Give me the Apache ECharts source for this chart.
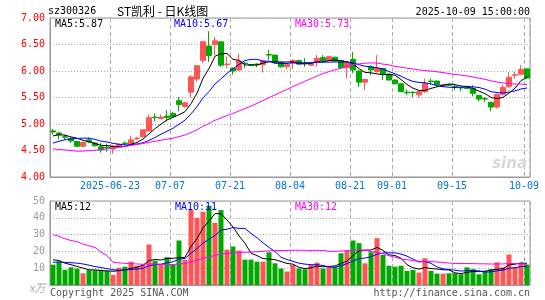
<!DOCTYPE html>
<html>
<head>
<meta charset="utf-8">
<script src="https://cdn.jsdelivr.net/npm/echarts@6/dist/echarts.min.js"></script>
<style>
html, body { margin: 0; padding: 0; background: #fff; }
#chartContainer { width: 545px; height: 300px; }
</style>
</head>
<body>
<div id="chartContainer"></div>
<script>
// sz300326 daily K-line, 2025-06-09 .. 2025-10-09
var dates = [
  '2025-06-09','2025-06-10','2025-06-11','2025-06-12','2025-06-13',
  '2025-06-16','2025-06-17','2025-06-18','2025-06-19','2025-06-20',
  '2025-06-23','2025-06-24','2025-06-25','2025-06-26','2025-06-27',
  '2025-06-30','2025-07-01','2025-07-02','2025-07-03','2025-07-04',
  '2025-07-07','2025-07-08','2025-07-09','2025-07-10','2025-07-11',
  '2025-07-14','2025-07-15','2025-07-16','2025-07-17','2025-07-18',
  '2025-07-21','2025-07-22','2025-07-23','2025-07-24','2025-07-25',
  '2025-07-28','2025-07-29','2025-07-30','2025-07-31','2025-08-01',
  '2025-08-04','2025-08-05','2025-08-06','2025-08-07','2025-08-08',
  '2025-08-11','2025-08-12','2025-08-18','2025-08-19','2025-08-20',
  '2025-08-21','2025-08-22','2025-08-25','2025-08-26','2025-08-27',
  '2025-08-28','2025-08-29','2025-09-01','2025-09-02','2025-09-03',
  '2025-09-04','2025-09-05','2025-09-08','2025-09-09','2025-09-10',
  '2025-09-11','2025-09-12','2025-09-15','2025-09-16','2025-09-17',
  '2025-09-18','2025-09-19','2025-09-22','2025-09-23','2025-09-24',
  '2025-09-25','2025-09-26','2025-09-29','2025-09-30','2025-10-09'
];
var tickDates = ['2025-06-23','2025-07-07','2025-07-21','2025-08-04','2025-08-21','2025-09-01','2025-09-15','2025-10-09'];

var openP = [
  4.87,4.83,4.76,4.73,4.67,4.58,4.70,4.64,4.57,4.56,
  4.53,4.58,4.64,4.62,4.72,4.76,4.87,5.13,5.10,5.15,
  5.20,5.44,5.33,5.60,5.85,6.20,6.47,6.50,6.55,6.12,
  6.05,6.02,6.15,6.12,6.13,6.12,6.31,6.30,6.16,6.08,
  6.14,6.20,6.15,6.11,6.17,6.25,6.20,6.26,6.20,6.06,
  6.22,6.00,5.79,6.08,5.99,6.05,5.94,5.83,5.76,5.60,
  5.60,5.55,5.61,5.81,5.81,5.71,5.74,5.71,5.69,5.71,
  5.67,5.54,5.48,5.41,5.32,5.56,5.71,5.92,5.94,6.04
];
var closeP = [
  4.85,4.80,4.75,4.68,4.58,4.65,4.66,4.59,4.51,4.55,
  4.58,4.62,4.63,4.70,4.73,4.89,5.12,5.12,5.13,5.12,
  5.14,5.37,5.40,5.89,6.10,6.55,6.29,6.57,6.11,6.13,
  6.00,6.19,6.14,6.11,6.12,6.19,6.30,6.16,6.08,6.12,
  6.20,6.13,6.14,6.14,6.24,6.19,6.27,6.19,6.06,6.16,
  6.02,5.79,5.84,6.02,6.06,5.94,5.83,5.76,5.61,5.59,
  5.59,5.61,5.77,5.80,5.74,5.74,5.73,5.70,5.68,5.67,
  5.58,5.47,5.47,5.32,5.56,5.69,5.88,5.93,6.03,5.87
];
var lowP = [
  4.80,4.71,4.70,4.64,4.57,4.56,4.64,4.57,4.46,4.48,
  4.44,4.56,4.60,4.60,4.70,4.74,4.85,5.05,5.09,5.05,
  5.12,5.24,5.31,5.50,5.80,6.15,6.17,6.30,6.08,6.05,
  5.93,6.00,6.05,6.09,6.07,5.97,6.21,6.14,6.06,6.03,
  6.04,6.11,6.08,6.10,6.08,6.17,6.19,6.18,6.05,5.86,
  5.96,5.70,5.64,5.92,5.97,5.83,5.82,5.74,5.60,5.54,
  5.50,5.50,5.58,5.74,5.73,5.70,5.72,5.64,5.62,5.66,
  5.52,5.43,5.42,5.24,5.29,5.54,5.68,5.85,5.93,5.86
];
var highP = [
  4.91,4.85,4.79,4.75,4.68,4.66,4.75,4.66,4.64,4.63,
  4.60,4.63,4.67,4.78,4.76,4.90,5.18,5.20,5.18,5.26,
  5.23,5.51,5.42,5.92,6.10,6.57,6.75,6.64,6.56,6.27,
  6.07,6.33,6.17,6.13,6.15,6.20,6.40,6.31,6.17,6.13,
  6.22,6.21,6.24,6.15,6.30,6.30,6.28,6.27,6.21,6.17,
  6.36,6.01,5.85,6.11,6.30,6.06,5.95,5.84,5.77,5.65,
  5.61,5.62,5.86,5.86,5.82,5.75,5.76,5.76,5.70,5.72,
  5.73,5.55,5.51,5.42,5.57,5.74,5.98,5.98,6.11,6.05
];
// volume, 10k shares
var volume = [
  12.1,13.9,9.0,10.5,9.8,7.0,8.8,8.8,9.0,8.4,
  6.0,10.3,10.9,13.9,11.5,12.1,24.1,14.5,12.1,16.5,
  12.1,26.5,15.1,44.6,40.0,43.6,47.2,37.0,44.6,21.1,
  22.9,20.5,15.1,15.1,13.9,13.9,19.5,12.9,9.8,8.0,
  11.9,9.8,9.4,11.9,13.3,9.8,10.9,10.9,18.9,20.5,
  26.5,24.9,12.9,19.5,27.9,17.9,11.5,10.9,11.5,8.4,
  9.0,7.4,15.9,8.4,6.8,6.8,7.0,7.0,6.4,10.5,
  9.4,6.4,8.4,9.4,13.5,10.5,18.1,10.5,13.1,12.1
];
// the 29 sessions before the window, only needed to start the moving averages
var prevClose = [
  5.10,5.05,5.00,4.95,4.60,4.45,4.30,4.20,4.15,4.10,
  4.15,4.20,4.10,4.15,4.35,4.45,4.50,4.55,4.60,4.55,
  4.45,4.48,4.50,4.52,4.57,4.70,4.78,4.85,4.70
];
var prevVolume = [
  45,52,42,30,50,40,40,90,70,125,
  22,20,18,19,17,18,16,17,17,17,
  12,11,13,12,12,16,17,15,14.9
];
var priceLegend = ['MA5:5.87', 'MA10:5.67', 'MA30:5.73'];
var volLegend = ['MA5:12', 'MA10:11', 'MA30:12'];

var UP = '#FF5555', DOWN = '#00A800';
var MONO = 'DejaVu Sans Mono';

function movingAvg(prev, vals, n) {
  var all = prev.concat(vals);
  return vals.map(function (v, i) {
    var j = i + prev.length, s = 0;
    for (var k = j - n + 1; k <= j; k++) s += all[k];
    return +(s / n).toFixed(3);
  });
}

var kData = dates.map(function (d, i) {
  return [openP[i], closeP[i], lowP[i], highP[i]];
});
var volData = volume.map(function (v, i) {
  return { value: v, itemStyle: { color: closeP[i] >= openP[i] ? UP : DOWN } };
});

function isTick(i) {
  return tickDates.indexOf(dates[i]) >= 0;
}

var dashed = { show: true, interval: isTick, lineStyle: { color: '#aaa', type: [4, 3], width: 1 } };
var dotted = { show: true, lineStyle: { color: '#aaa', type: [1, 2], width: 1 } };

function maLine(name, data, color, axis) {
  return {
    name: name, type: 'line', data: data,
    xAxisIndex: axis, yAxisIndex: axis,
    showSymbol: false, symbol: 'none', smooth: false, silent: true,
    lineStyle: { color: color, width: 1 }, z: 5
  };
}

function txt(x, y, text, color, extra) {
  var style = { x: x, y: y, text: text, fill: color, font: '10px "' + MONO + '"', textVerticalAlign: 'middle' };
  for (var k in extra) style[k] = extra[k];
  return { type: 'text', style: style, z: 100 };
}

var myChart = echarts.init(document.getElementById('chartContainer'), null, { renderer: 'canvas' });

myChart.setOption({
  animation: false,
  backgroundColor: '#fff',
  grid: [
    { left: 50, right: 15, top: 18, height: 159, show: true, borderColor: '#999', borderWidth: 1 },
    { left: 50, right: 15, top: 201, height: 84, show: true, borderColor: '#999', borderWidth: 1 }
  ],
  xAxis: [{
    type: 'category', gridIndex: 0, data: dates, boundaryGap: true,
    axisLine: { lineStyle: { color: '#999' } },
    axisTick: { show: false },
    axisLabel: {
      interval: isTick, margin: 4, color: '#0077CC', fontFamily: MONO, fontSize: 10,
      padding: [0, 6, 0, 0],
      formatter: function (v) { return v === tickDates[0] ? v : v.slice(5); }
    },
    splitLine: dashed
  }, {
    type: 'category', gridIndex: 1, data: dates, boundaryGap: true,
    axisLine: { lineStyle: { color: '#999' } },
    axisTick: { show: false }, axisLabel: { show: false },
    splitLine: dashed
  }],
  yAxis: [{
    type: 'value', gridIndex: 0, min: 4, max: 7, interval: 0.5,
    axisLine: { show: true, lineStyle: { color: '#999' } }, axisTick: { show: false },
    axisLabel: { color: '#FF0000', fontFamily: MONO, fontSize: 10, margin: 5,
      formatter: function (v) { return v.toFixed(2); } },
    splitLine: dotted
  }, {
    type: 'value', gridIndex: 1, min: 0, max: 50, interval: 10,
    axisLine: { show: true, lineStyle: { color: '#999' } }, axisTick: { show: false },
    axisLabel: { color: '#999', fontFamily: MONO, fontSize: 10, margin: 5,
      formatter: function (v) { return v === 0 ? '' : String(v); } },
    splitLine: dotted
  }],
  series: [{
    type: 'candlestick', data: kData, xAxisIndex: 0, yAxisIndex: 0,
    barWidth: 5,
    itemStyle: { color: UP, color0: DOWN, borderColor: UP, borderColor0: DOWN, borderWidth: 1 },
    z: 3
  },
    maLine('MA5', movingAvg(prevClose, closeP, 5), '#000000', 0),
    maLine('MA10', movingAvg(prevClose, closeP, 10), '#0000FF', 0),
    maLine('MA30', movingAvg(prevClose, closeP, 30), '#FF00FF', 0),
  {
    type: 'bar', data: volData, xAxisIndex: 1, yAxisIndex: 1,
    barWidth: 5, z: 3
  },
    maLine('VMA5', movingAvg(prevVolume, volume, 5), '#000000', 1),
    maLine('VMA10', movingAvg(prevVolume, volume, 10), '#0000FF', 1),
    maLine('VMA30', movingAvg(prevVolume, volume, 30), '#FF00FF', 1)
  ],
  graphic: [
    txt(48, 11, 'sz300326', '#000'),
    { type: 'text', z: 100, style: { x: 117, y: 11, text: 'ST凯利 - 日K线图', fill: '#000',
      font: '12px "Noto Sans CJK SC"', textVerticalAlign: 'middle' } },
    txt(530, 12, '2025-10-09 15:00:00', '#000', { textAlign: 'right' }),
    txt(55, 24, priceLegend[0], '#000'),
    txt(174, 24, priceLegend[1], '#0000FF'),
    txt(295, 24, priceLegend[2], '#FF00FF'),
    txt(55, 207, volLegend[0], '#000'),
    txt(175, 207, volLegend[1], '#0000FF'),
    txt(295, 207, volLegend[2], '#FF00FF'),
    txt(29, 288, 'x万', '#aaa', { font: 'italic 11px "Noto Sans CJK SC"' }),
    txt(50, 293, 'Copyright 2025 SINA.COM', '#555'),
    txt(530, 293, 'http://finance.sina.com.cn', '#555', { textAlign: 'right' }),
    { type: 'text', z: 1, style: { x: 527, y: 164, text: 'sina', fill: '#d8d8d8',
      font: 'italic bold 15px "DejaVu Sans"', textVerticalAlign: 'middle', textAlign: 'right' } }
  ]
});
</script>
</body>
</html>
